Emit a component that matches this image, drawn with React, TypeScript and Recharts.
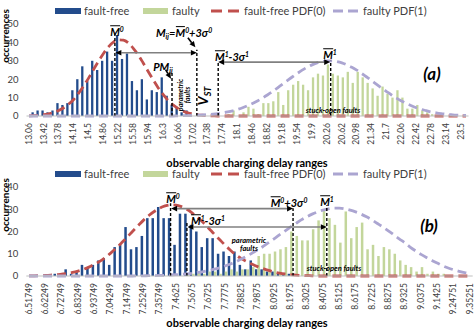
import React from 'react';
import { ComposedChart, Bar, Line, XAxis, YAxis, ReferenceLine } from 'recharts';

const FONT = "Lato, 'Open Sans', 'DejaVu Sans', sans-serif";

// ---- chart (a) ----
const CATS_A = [
  '13.06', '13.18', '13.3', '13.42', '13.54', '13.66', '13.78', '13.9', '14.02', '14.14',
  '14.26', '14.38', '14.5', '14.62', '14.74', '14.86', '14.98', '15.1', '15.22', '15.34',
  '15.46', '15.58', '15.7', '15.82', '15.94', '16.06', '16.18', '16.3', '16.42', '16.54',
  '16.66', '16.78', '16.9', '17.02', '17.14', '17.26', '17.38', '17.5', '17.62', '17.74',
  '17.86', '17.98', '18.1', '18.22', '18.34', '18.46', '18.58', '18.7', '18.82', '18.94',
  '19.06', '19.18', '19.3', '19.42', '19.54', '19.66', '19.78', '19.9', '20.02', '20.14',
  '20.26', '20.38', '20.5', '20.62', '20.74', '20.86', '20.98', '21.1', '21.22', '21.34',
  '21.46', '21.58', '21.7', '21.82', '21.94', '22.06', '22.18', '22.3', '22.42', '22.54',
  '22.66', '22.78', '22.9', '23.02', '23.14', '23.26', '23.38', '23.5', '23.62',
];
const FAULT_FREE_A = [
  0, 2, 3, 3, 2, 3, 7, 6, 7, 14,
  20, 27, 19, 30, 25, 30, 35, 30, 44, 31,
  34, 19, 14, 20, 9, 14, 13, 21, 11, 6,
  5, 2, 3, 0, 0, 0, 0, 0, 0, 0,
  0, 0, 0, 0, 0, 0, 0, 0, 0, 0,
  0, 0, 0, 0, 0, 0, 0, 0, 0, 0,
  0, 0, 0, 0, 0, 0, 0, 0, 0, 0,
  0, 0, 0, 0, 0, 0, 0, 0, 0, 0,
  0, 0, 0, 0, 0, 0, 0, 0, 0,
];
const FAULTY_A = [
  0, 0, 0, 0, 0, 0, 0, 0, 0, 0,
  0, 0, 0, 0, 0, 0, 0, 0, 0, 0,
  0, 0, 0, 0, 0, 0, 0, 0, 0, 0,
  0, 0, 0, 0, 0, 0, 0, 0, 0, 0,
  1, 3, 0, 2, 5, 4, 1, 7, 7, 8,
  13, 6, 14, 17, 19, 17, 14, 21, 23, 22,
  28, 23, 22, 21, 24, 18, 24, 21, 18, 15,
  11, 16, 12, 10, 14, 10, 4, 4, 6, 3,
  2, 1, 0, 0, 0, 0, 0, 0, 0,
];
const PDF0_A = [
  0.1, 0.2, 0.4, 0.7, 1.2, 1.9, 3, 4.5, 6.5, 9,
  12.4, 16.3, 20.6, 25.3, 29.8, 34, 37.6, 40.2, 41.4, 41.2,
  39.7, 36.8, 33.2, 28.8, 24.2, 19.7, 15.4, 11.7, 8.5, 6,
  4.1, 2.7, 1.7, 1.1, 0.6, 0.4, 0.2, 0.1, 0, 0,
  0, 0, 0, 0, 0, 0, 0, 0, 0, 0,
  0, 0, 0, 0, 0, 0, 0, 0, 0, 0,
  0, 0, 0, 0, 0, 0, 0, 0, 0, 0,
  0, 0, 0, 0, 0, 0, 0, 0, 0, 0,
  0, 0, 0, 0, 0, 0, 0, 0, 0,
];
const PDF1_A = [
  0, 0, 0, 0, 0, 0, 0, 0, 0, 0,
  0, 0, 0, 0, 0, 0, 0, 0, 0, 0,
  0, 0, 0, 0, 0, 0, 0, 0, 0, 0,
  0.1, 0.15, 0.2, 0.3, 0.4, 0.55, 0.75, 1, 1.3, 1.7,
  2.2, 2.8, 3.6, 4.5, 5.6, 6.8, 8.2, 9.7, 11.4, 13.2,
  15.2, 17.2, 19.2, 21.2, 23.1, 24.9, 26.5, 27.8, 28.9, 29.6,
  30, 30, 29.6, 28.9, 27.8, 26.5, 24.9, 23.1, 21.2, 19.2,
  17.2, 15.2, 13.3, 11.4, 9.7, 8.2, 6.8, 5.6, 4.5, 3.6,
  2.9, 2.2, 1.7, 1.3, 1, 0.75, 0.5, 0.4, 0.3,
];
const Y_TICKS_A = [0, 10, 20, 30, 40, 50];

// ---- chart (b) ----
const CATS_B = [
  '6.51749', '6.55249', '6.58749', '6.62249', '6.65749', '6.69249', '6.72749', '6.76249', '6.79749', '6.83249',
  '6.86749', '6.90249', '6.93749', '6.97249', '7.00749', '7.04249', '7.07749', '7.11249', '7.14749', '7.18249',
  '7.21749', '7.25249', '7.28749', '7.32249', '7.35749', '7.39249', '7.42749', '7.4625', '7.4975', '7.5325',
  '7.5675', '7.6025', '7.6375', '7.6725', '7.7075', '7.7425', '7.7775', '7.8125', '7.8475', '7.8825',
  '7.9175', '7.9525', '7.9875', '8.0225', '8.0575', '8.0925', '8.1275', '8.1625', '8.1975', '8.2325',
  '8.2675', '8.3025', '8.3375', '8.3725', '8.4075', '8.4425', '8.4775', '8.5125', '8.5475', '8.5825',
  '8.6175', '8.6525', '8.6875', '8.7225', '8.7575', '8.7925', '8.8275', '8.8625', '8.8975', '8.9325',
  '8.9675', '9.0025', '9.0375', '9.0725', '9.1075', '9.1425', '9.17751', '9.21251', '9.24751', '9.28251',
  '9.31751', '9.35251',
];
const FAULT_FREE_B = [
  0, 0, 0, 0, 0, 1, 0, 3, 1, 2,
  5, 4, 5, 7, 8, 5, 13, 14, 22, 12,
  13, 18, 26, 26, 31, 26, 26, 14, 28, 28,
  23, 20, 13, 17, 17, 10, 11, 9, 11, 5,
  3, 7, 3, 3, 2, 2, 1, 1, 1, 1,
  0, 0, 0, 0, 0, 0, 0, 0, 0, 0,
  0, 0, 0, 0, 0, 0, 0, 0, 0, 0,
  0, 0, 0, 0, 0, 0, 0, 0, 0, 0,
  0, 0,
];
const FAULTY_B = [
  0, 0, 0, 0, 0, 0, 0, 0, 0, 0,
  0, 0, 0, 0, 0, 0, 0, 0, 0, 0,
  0, 0, 0, 0, 0, 0, 0, 0, 0, 1,
  1, 2, 1, 2, 2, 1, 2, 3, 2, 3,
  3, 4, 9, 10, 10, 11, 12, 13, 20, 18,
  16, 16, 21, 25, 30, 26, 23, 15, 29, 17,
  22, 24, 12, 14, 9, 13, 12, 10, 7, 5,
  4, 2, 4, 1, 2, 1, 1, 0, 0, 0,
  0, 0,
];
const PDF0_B = [
  0.1, 0.1, 0.15, 0.25, 0.4, 0.6, 0.8, 1.2, 1.6, 2.2,
  3, 4, 5.2, 6.6, 8.3, 10.3, 12.5, 14.9, 17.4, 20,
  22.5, 25, 27.2, 29, 30.5, 31.5, 32, 31.9, 31.2, 30,
  28.3, 26.3, 24, 21.5, 18.9, 16.4, 13.9, 11.6, 9.5, 7.8,
  6.5, 5.3, 4.2, 3.3, 2.5, 1.8, 1.3, 0.9, 0.6, 0.4,
  0.25, 0.15, 0.1, 0, 0, 0, 0, 0, 0, 0,
  0, 0, 0, 0, 0, 0, 0, 0, 0, 0,
  0, 0, 0, 0, 0, 0, 0, 0, 0, 0,
  0, 0,
];
const PDF1_B = [
  0, 0, 0, 0, 0, 0, 0, 0, 0, 0,
  0, 0, 0, 0, 0, 0, 0, 0, 0, 0,
  0.07, 0.1, 0.13, 0.18, 0.25, 0.33, 0.44, 0.58, 0.76, 0.98,
  1.25, 1.6, 2, 2.5, 3.05, 3.7, 4.5, 5.4, 6.4, 7.6,
  8.9, 10.3, 11.7, 13.3, 15, 16.7, 18.5, 20.2, 22, 23.6,
  25.2, 26.6, 27.8, 28.8, 29.6, 30.2, 30.5, 30.5, 30.2, 29.6,
  28.8, 27.8, 26.6, 25.2, 23.6, 22, 20.3, 18.5, 16.7, 15,
  13, 11.3, 9.7, 8.3, 7, 5.8, 4.6, 3.6, 2.8, 2.1,
  1.5, 1.1,
];
const Y_TICKS_B = [0, 10, 20, 30, 40];

// markers: [category position, count at top]
const MARKS_A = { m0: [17.3, 44.5], pm: [28.8, 24], mij: [33.8, 36], m1s: [38.1, 29.5], m1: [60.75, 30] };
const MARKS_B = { m0: [26.0, 32.7], m1s: [29.0, 24.3], m0s: [48.5, 30.5], m1: [54.7, 31.8] };

const BLUE = '#234C8C';
const GREEN = '#C3D69B';
const RED = '#C0504D';
const PURPLE = '#ABA5D1';

const rows = (cats: string[], ff: number[], fy: number[], p0: number[], p1: number[]) =>
  cats.map((c, i) => ({ i, label: c, ff: ff[i], fy: fy[i], p0: p0[i], p1: p1[i] }));

const DATA_A = rows(CATS_A, FAULT_FREE_A, FAULTY_A, PDF0_A, PDF1_A);
const DATA_B = rows(CATS_B, FAULT_FREE_B, FAULTY_B, PDF0_B, PDF1_B);

const RotTick = ({ x, y, payload, labels }: any) => (
  <text x={x} y={y} transform={`rotate(-90 ${x} ${y})`} textAnchor="end" dy="0.32em"
    fontSize={8.5} fill="#404040" fontFamily={FONT}>
    {labels[payload.value]}
  </text>
);

// line with arrow heads (both ends or just the end)
const arrowShape = (both: boolean, color: string) => (p: any) => {
  const { x1, y1, x2, y2 } = p;
  const len = Math.hypot(x2 - x1, y2 - y1) || 1;
  const ux = (x2 - x1) / len, uy = (y2 - y1) / len;
  const nx = -uy, ny = ux;
  const L = 6, W = 2.8;
  const head = (tx: number, ty: number, dx: number, dy: number) =>
    `${tx},${ty} ${tx - dx * L + nx * W},${ty - dy * L + ny * W} ${tx - dx * L - nx * W},${ty - dy * L - ny * W}`;
  return (
    <g>
      <line x1={both ? x1 + ux * L : x1} y1={both ? y1 + uy * L : y1} x2={x2 - ux * L} y2={y2 - uy * L}
        stroke={color} strokeWidth={1.6} />
      <polygon points={head(x2, y2, ux, uy)} fill="#000" />
      {both && <polygon points={head(x1, y1, -ux, -uy)} fill="#000" />}
    </g>
  );
};

const vLine = (pos: number[], key: string) => (
  <ReferenceLine key={key} segment={[{ x: pos[0], y: 0 }, { x: pos[0], y: pos[1] }]}
    stroke="#000" strokeWidth={1.4} strokeDasharray="3 2" />
);

const hArrow = (from: number, to: number, y: number, key: string) => (
  <ReferenceLine key={key} segment={[{ x: from, y }, { x: to, y }]} shape={arrowShape(true, '#808080')} />
);

const Histogram = ({ data, cats, yMax, yTicks, top, bottom, right, yWidth, barSize, children }: any) => {
  const tickIdx = cats.map((_: string, i: number) => i).filter((i: number) => i % 3 === 0);
  return (
    <ComposedChart width={474} height={165} data={data} barGap={0.5}
      margin={{ top, right, bottom: 0, left: 0 }}>
      <XAxis dataKey="i" type="number" domain={[-0.5, cats.length - 0.5]} ticks={tickIdx} interval={0}
        tick={(p: any) => <RotTick {...p} labels={cats} />} tickLine={false} tickMargin={1}
        axisLine={{ stroke: '#BFBFBF' }} height={bottom} />
      <YAxis domain={[0, yMax]} ticks={yTicks} width={yWidth} axisLine={false} tickLine={false}
        tick={{ fontSize: 9.5, fill: '#404040', fontFamily: FONT }} />
      <Bar dataKey="ff" fill={BLUE} barSize={barSize} isAnimationActive={false} />
      <Bar dataKey="fy" fill={GREEN} barSize={barSize} isAnimationActive={false} />
      <Line dataKey="p0" type="monotone" stroke={RED} strokeWidth={2.8} strokeDasharray="9 5"
        dot={false} activeDot={false} isAnimationActive={false} />
      <Line dataKey="p1" type="monotone" stroke={PURPLE} strokeWidth={2.8} strokeDasharray="9 5"
        dot={false} activeDot={false} isAnimationActive={false} />
      {children}
    </ComposedChart>
  );
};

const Note = ({ x, y, size = 11, rotate = 0, children }: any) => (
  <div style={{
    position: 'absolute', left: x, top: y, transform: `translate(-50%, -50%) rotate(${rotate}deg)`,
    fontSize: size, fontWeight: 700, fontStyle: 'italic', whiteSpace: 'nowrap', lineHeight: 1,
    color: '#000', fontFamily: FONT,
  }}>{children}</div>
);

const Bar_ = ({ children }: any) => (
  <span style={{ display: 'inline-block', borderTop: '1.3px solid #000', lineHeight: 0.9, paddingTop: 0.5 }}>{children}</span>
);
const Sup = ({ children }: any) => <span style={{ fontSize: '0.62em', verticalAlign: '0.55em' }}>{children}</span>;
const Sub = ({ children }: any) => <span style={{ fontSize: '0.65em', verticalAlign: '-0.3em' }}>{children}</span>;

const Legend = ({ y }: { y: number }) => {
  const txt = (x: number, s: string) => (
    <div style={{ position: 'absolute', left: x, top: y - 7, fontSize: 11, lineHeight: '14px', color: '#404040', fontFamily: FONT, whiteSpace: 'nowrap' }}>{s}</div>
  );
  return (
    <>
      <div style={{ position: 'absolute', left: 55, top: y - 3, width: 26, height: 6, background: BLUE }} />
      {txt(84, 'fault-free')}
      <div style={{ position: 'absolute', left: 143, top: y - 3, width: 25, height: 6, background: GREEN }} />
      {txt(172, 'faulty')}
      <svg style={{ position: 'absolute', left: 211, top: y - 3 }} width={30} height={6}>
        <line x1={0} y1={3} x2={30} y2={3} stroke={RED} strokeWidth={3} strokeDasharray="11 6" />
      </svg>
      {txt(244, 'fault-free PDF(0)')}
      <svg style={{ position: 'absolute', left: 333, top: y - 3 }} width={26} height={6}>
        <line x1={0} y1={3} x2={26} y2={3} stroke={PURPLE} strokeWidth={3} strokeDasharray="10 5" />
      </svg>
      {txt(363, 'faulty PDF(1)')}
    </>
  );
};

const AxisTitles = ({ titleY, occY }: { titleY: number; occY: number }) => (
  <>
    <div style={{ position: 'absolute', left: 247, top: titleY, transform: 'translate(-50%, -50%)', fontSize: 11, fontWeight: 700, color: '#000', fontFamily: FONT, whiteSpace: 'nowrap' }}>
      observable charging delay ranges
    </div>
    <div style={{ position: 'absolute', left: 5, top: occY, transform: 'translate(-50%, -50%) rotate(-90deg)', fontSize: 10, fontWeight: 700, lineHeight: 1, color: '#000', fontFamily: FONT, whiteSpace: 'nowrap' }}>
      occurrences
    </div>
  </>
);

export default function App() {
  const A = MARKS_A, B = MARKS_B;
  return (
    <div style={{ position: 'absolute', left: 0, top: 0, width: 474, height: 330, background: '#fff', overflow: 'hidden' }}>
      <div style={{ position: 'absolute', left: 0, top: 0 }}>
        <Histogram data={DATA_A} cats={CATS_A} yMax={50} yTicks={Y_TICKS_A} top={24} bottom={49} right={5.5} yWidth={26.5} barSize={2.3}>
          {vLine(A.m0, 'a0')}
          {vLine(A.pm, 'a1')}
          {vLine(A.mij, 'a2')}
          {vLine(A.m1s, 'a3')}
          {vLine(A.m1, 'a4')}
          {hArrow(A.m0[0] + 0.1, A.mij[0], 34.4, 'a5')}
          {hArrow(A.m1s[0], A.m1[0] - 0.1, 29.3, 'a6')}
          <ReferenceLine segment={[{ x: 32.0, y: 42.5 }, { x: 33.5, y: 37.3 }]} shape={arrowShape(false, '#000')} />
          <ReferenceLine segment={[{ x: 27.5, y: 25.2 }, { x: 28.6, y: 20.3 }]} shape={arrowShape(false, '#000')} />
        </Histogram>
      </div>
      <div style={{ position: 'absolute', left: 0, top: 165 }}>
        <Histogram data={DATA_B} cats={CATS_B} yMax={40} yTicks={Y_TICKS_B} top={22} bottom={54} right={1.3} yWidth={26.3} barSize={2.5}>
          {vLine(B.m0, 'b0')}
          {vLine(B.m1s, 'b1')}
          {vLine(B.m0s, 'b2')}
          {vLine(B.m1, 'b3')}
          {hArrow(B.m0[0] + 0.1, B.m0s[0], 30.3, 'b4')}
          {hArrow(B.m1s[0] + 0.1, B.m1[0], 22, 'b5')}
        </Histogram>
      </div>

      <Legend y={10.5} />
      <Legend y={174} />
      <AxisTitles titleY={162} occY={36} />
      <AxisTitles titleY={322} occY={205} />

      {/* (a) annotations */}
      <Note x={117} y={31}><Bar_>M</Bar_><Sup>0</Sup></Note>
      <Note x={184} y={33}>M<Sub>ij</Sub>=<Bar_>M</Bar_><Sup>0</Sup>+3σ<Sup>0</Sup></Note>
      <Note x={163} y={68}>PM<Sub>ij</Sub></Note>
      <Note x={180} y={95} size={7} rotate={-90}>parametric</Note>
      <Note x={187} y={95} size={7} rotate={-90}>faults</Note>
      <Note x={204} y={96} size={14} rotate={-90}>V<Sub>ST</Sub></Note>
      <Note x={232} y={56}><Bar_>M</Bar_><Sup>1</Sup>-3σ<Sup>1</Sup></Note>
      <Note x={330} y={54}><Bar_>M</Bar_><Sup>1</Sup></Note>
      <Note x={333} y={110.5} size={7.5}>stuck-open faults</Note>
      <Note x={432} y={73} size={17}>(a)</Note>

      {/* (b) annotations */}
      <Note x={173} y={198}><Bar_>M</Bar_><Sup>0</Sup></Note>
      <Note x={289} y={202}><Bar_>M</Bar_><Sup>0</Sup>+3σ<Sup>0</Sup></Note>
      <Note x={208} y={220}><Bar_>M</Bar_><Sup>1</Sup>-3σ<Sup>1</Sup></Note>
      <Note x={327} y={201}><Bar_>M</Bar_><Sup>1</Sup></Note>
      <Note x={249} y={241} size={7.5}>parametric</Note>
      <Note x={249} y={249} size={7.5}>faults</Note>
      <Note x={334} y={269} size={7.5}>stuck-open faults</Note>
      <Note x={429} y={225} size={17}>(b)</Note>
    </div>
  );
}
